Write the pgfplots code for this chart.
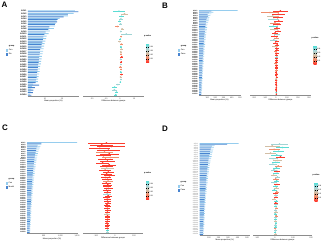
\documentclass[border=0pt]{standalone}
\usepackage{fontspec}
\setmainfont{Liberation Sans}
\usepackage{pgfplots}
\usepackage{pgfplotstable}
\pgfplotsset{compat=1.18}

\definecolor{lightb}{RGB}{150,205,238}
\definecolor{darkb}{RGB}{72,132,208}
\definecolor{pv1}{RGB}{251,60,45}
\definecolor{pv2}{RGB}{239,142,109}
\definecolor{pv3}{RGB}{210,190,165}
\definecolor{pv4}{RGB}{160,212,212}
\definecolor{pv5}{RGB}{90,220,212}

% panel A: y g1 g2 d e p
\pgfplotstableread{
y g1 g2 d e p
1 27.5 29.6 -0.8 4.0 0.046
2 26.8 23.5 3.2 2.2 0.028
3 23.4 21.0 1.0 1.8 0.040
4 18.6 17.4 0.6 1.2 0.035
5 16.8 17.1 -0.3 0.9 0.044
6 16.2 15.8 0.4 1.0 0.030
7 15.9 12.6 -2.0 1.5 0.018
8 15.2 12.0 1.5 1.0 0.022
9 12.8 10.4 0.5 0.8 0.038
10 12.2 9.6 4.5 4.0 0.032
11 11.0 9.0 0.8 0.9 0.015
12 10.6 8.8 0.3 0.7 0.042
13 10.2 8.5 -0.4 0.8 0.026
14 9.8 8.0 0.9 1.1 0.010
15 9.5 7.8 0.6 0.8 0.040
16 9.2 7.2 1.0 1.0 0.020
17 8.9 7.0 0.5 0.6 0.024
18 8.6 6.8 0.7 0.9 0.012
19 8.2 6.5 1.2 1.2 0.008
20 8.0 6.4 0.4 0.7 0.036
21 7.7 6.2 0.9 0.8 0.005
22 7.5 6.0 0.6 0.6 0.030
23 7.2 5.8 0.3 0.8 0.016
24 7.0 5.6 0.8 0.7 0.012
25 6.8 5.4 0.5 0.5 0.044
26 6.5 5.2 1.1 1.0 0.006
27 6.2 5.0 0.4 0.6 0.020
28 6.0 4.8 0.7 0.6 0.035
29 5.8 4.5 0.2 0.5 0.041
30 3.0 6.5 -1.5 1.2 0.038
31 2.4 4.0 -3.8 1.8 0.045
32 2.0 3.2 -4.0 1.5 0.032
33 1.6 2.8 -2.4 1.2 0.048
34 1.2 2.0 -3.0 1.0 0.040
}\dA

\pgfplotstableread{
y g1 g2 d e p
1 470 150 40 70 0.004
2 175 120 -55 80 0.012
3 150 105 20 60 0.002
4 140 110 -30 55 0.025
5 128 96 15 45 0.003
6 122 90 -20 50 0.034
7 118 88 25 40 0.006
8 110 85 -10 45 0.018
9 106 80 12 35 0.002
10 100 78 -25 40 0.041
11 98 74 8 30 0.005
12 95 70 -15 35 0.028
13 92 72 18 30 0.003
14 90 68 -8 28 0.009
15 86 66 10 25 0.036
16 84 64 -12 30 0.004
17 82 60 6 22 0.015
18 80 62 -20 32 0.031
19 78 58 9 20 0.002
20 76 57 -6 22 0.007
21 74 55 11 20 0.004
22 72 54 -9 24 0.022
23 70 53 5 18 0.003
24 68 52 8 18 0.006
25 66 50 -4 16 0.011
26 65 49 7 17 0.002
27 63 48 3 15 0.005
28 62 46 6 16 0.038
29 60 45 2 14 0.003
30 58 44 5 14 0.008
31 57 43 4 13 0.004
32 55 42 -3 14 0.019
33 54 41 6 12 0.002
34 52 40 4 12 0.006
35 51 39 3 11 0.003
36 50 38 5 12 0.013
37 48 37 2 10 0.004
38 47 36 4 10 0.002
39 46 35 3 10 0.007
40 45 34 5 9 0.003
41 44 33 2 9 0.027
42 42 32 4 9 0.005
43 41 31 3 8 0.002
44 40 30 2 8 0.009
45 39 30 4 8 0.003
46 38 29 3 7 0.006
47 37 28 2 7 0.002
48 36 27 3 7 0.004
49 35 26 2 6 0.044
50 34 25 3 6 0.003
}\dB

\pgfplotstableread{
y g1 g2 d e p
1 1500 430 -45 95 0.004
2 430 320 -70 60 0.002
3 400 300 -20 75 0.006
4 380 280 -80 55 0.003
5 360 270 -35 60 0.001
6 340 255 -55 45 0.012
7 325 245 -30 50 0.002
8 310 235 -60 40 0.004
9 300 225 -25 45 0.018
10 290 220 -50 38 0.001
11 280 210 -40 40 0.003
12 270 205 -65 35 0.002
13 262 200 -30 36 0.008
14 255 195 -45 32 0.001
15 248 190 -38 34 0.026
16 240 182 -52 30 0.003
17 232 178 -35 30 0.002
18 225 172 -44 28 0.005
19 218 168 -30 28 0.001
20 212 162 -48 26 0.004
21 206 158 -40 26 0.002
22 200 154 -36 25 0.014
23 195 150 -46 24 0.001
24 190 146 -38 24 0.003
25 185 142 -42 22 0.002
26 180 138 -34 22 0.006
27 175 135 -44 21 0.001
28 170 132 -39 20 0.003
29 166 128 -41 20 0.032
30 162 125 -36 19 0.002
31 158 122 -43 18 0.001
32 154 119 -38 18 0.004
33 150 116 -40 17 0.002
34 146 113 -37 17 0.009
35 142 110 -42 16 0.001
36 138 107 -39 16 0.003
37 135 104 -41 15 0.002
38 132 101 -38 15 0.005
39 129 98 -40 14 0.001
40 126 96 -42 14 0.021
41 123 94 -39 13 0.002
42 120 92 -41 13 0.003
43 117 90 -38 12 0.001
44 114 88 -40 12 0.004
45 111 86 -42 11 0.002
46 108 84 -39 11 0.001
47 105 82 -41 10 0.003
48 102 80 -40 10 0.002
49 99 78 -38 9 0.045
50 96 76 -40 9 0.030
}\dC

\pgfplotstableread{
y g1 g2 d e p
1 410 290 25 45 0.035
2 160 130 -15 40 0.020
3 150 122 40 35 0.045
4 145 118 -5 30 0.012
5 140 112 20 32 0.040
6 135 108 -25 28 0.028
7 130 104 10 30 0.046
8 126 100 30 25 0.008
9 122 97 -10 26 0.038
10 118 94 15 24 0.022
11 114 91 5 22 0.044
12 110 88 -12 22 0.030
13 107 86 18 20 0.016
14 104 83 8 20 0.042
15 101 81 -6 19 0.034
16 98 79 12 18 0.004
17 95 77 6 18 0.048
18 92 75 -8 17 0.026
19 90 73 14 16 0.036
20 88 71 4 16 0.010
21 86 69 9 15 0.043
22 84 67 -5 15 0.032
23 82 66 11 14 0.006
24 80 64 3 14 0.040
25 78 63 8 13 0.024
26 76 61 -4 13 0.046
27 74 60 10 12 0.014
28 72 58 2 12 0.003
29 70 57 7 12 0.038
30 68 56 5 11 0.002
31 67 54 -3 11 0.029
32 65 53 8 11 0.041
33 64 52 4 10 0.007
34 62 51 6 10 0.033
35 61 50 2 10 0.045
36 60 48 7 9 0.018
37 58 47 3 9 0.039
38 57 46 5 9 0.027
39 56 45 1 8 0.044
40 55 44 6 8 0.012
41 54 43 3 8 0.036
42 53 42 4 8 0.048
43 52 41 2 7 0.021
44 51 40 5 7 0.040
45 50 40 3 7 0.031
46 49 39 4 7 0.046
47 48 38 2 6 0.015
48 47 37 3 6 0.037
49 46 36 1 6 0.043
50 45 35 3 6 0.025
}\dD

\pgfplotsset{
  barax/.style={
    scale only axis, xbar, y dir=reverse, bar width=0.36,
    axis x line*=bottom, axis y line*=left,
    y axis line style={draw=none}, ytick style={draw=none},
    x axis line style={black!45, line width=0.3bp},
    xtick style={black!45, line width=0.3bp},
    tick align=outside, major tick length=1bp,
    xmin=0, enlarge y limits=false, clip=false,
    /pgf/number format/assume math mode=true,
    xticklabel style={font=\fontsize{2}{2.2}\selectfont, text=black!75, inner sep=0.6bp},
    yticklabel style={font=\fontsize{1.8}{2}\selectfont\bfseries, inner sep=0.4bp},
    yticklabel={ASV\pgfmathprintnumber{\tick}},
    xlabel style={font=\fontsize{2}{2.2}\selectfont, inner sep=0.4bp},
    legend style={anchor=north west, draw=none, fill=none,
      font=\fontsize{2}{2.2}\selectfont, inner sep=0pt, outer sep=0pt,
      row sep=0.5bp, nodes={inner sep=0.3bp}},
    legend cell align=left,
  },
  lb/.style={fill=lightb, draw=none, bar shift=-0.19,
    legend image code/.code={\fill[lightb] (0bp,-1.2bp) rectangle (2.4bp,1.2bp);}},
  db/.style={fill=darkb, draw=none, bar shift=0.19,
    legend image code/.code={\fill[darkb] (0bp,-1.2bp) rectangle (2.4bp,1.2bp);}},
  diffax/.style={
    scale only axis, y dir=reverse,
    axis x line*=bottom, axis y line=none, ytick=\empty,
    x axis line style={black!45, line width=0.3bp},
    xtick style={black!45, line width=0.3bp},
    tick align=outside, major tick length=1bp,
    enlarge y limits=false,
    /pgf/number format/assume math mode=true,
    xticklabel style={font=\fontsize{2}{2.2}\selectfont, text=black!75, inner sep=0.6bp},
    xlabel style={font=\fontsize{2}{2.2}\selectfont, inner sep=0.4bp},
    xlabel={Difference between groups},
    colormap={pv}{rgb255=(255,35,30) rgb255=(246,130,95) rgb255=(210,190,165) rgb255=(165,215,220) rgb255=(70,222,212)},
    point meta min=0, point meta max=0.05,
    colorbar,
  },
  cbar/.style={colorbar style={scale only axis, width=3bp, height=20bp,
    at={(parent axis.north east)}, anchor=north west, #1,
    y dir=normal, ytick={0.01,0.02,0.03,0.04}, scaled y ticks=false,
    major tick length=0.6bp, tick style={black, line width=0.2bp},
    axis line style={draw=none},
    /pgf/number format/assume math mode=true,
    yticklabel style={font=\fontsize{1.8}{2}\selectfont, inner sep=0.3bp,
      /pgf/number format/fixed, /pgf/number format/precision=2, /pgf/number format/fixed zerofill},
    title={p.value}, title style={font=\fontsize{2}{2.2}\selectfont\bfseries, inner sep=0.4bp}}},
  pcls/.style n args={3}{only marks, mark=*, mark size=0.6bp, color=#1,
    mark options={draw=none, fill=#1},
    restrict expr to domain={\thisrow{p}}{#2:#3},
    error bars/.cd, x dir=both, x explicit, error mark=none,
    error bar style={line width=0.35bp, color=#1}},
}
\newcommand{\diffplots}[1]{%
  \addplot[pcls={pv5}{0.04}{0.05}] table[x=d,y=y,x error=e]{#1};
  \addplot[pcls={pv4}{0.03}{0.0399}] table[x=d,y=y,x error=e]{#1};
  \addplot[pcls={pv3}{0.02}{0.0299}] table[x=d,y=y,x error=e]{#1};
  \addplot[pcls={pv2}{0.01}{0.0199}] table[x=d,y=y,x error=e]{#1};
  \addplot[pcls={pv1}{0}{0.0099}] table[x=d,y=y,x error=e]{#1};
}

\begin{document}
\begin{tikzpicture}
\useasboundingbox (0,0) rectangle (321bp,241bp);
% ---------- A ----------
\node[anchor=north west, font=\fontsize{8}{8}\selectfont\bfseries, inner sep=0pt] at (1.5bp,239.5bp) {A};
\begin{axis}[barax, at={(28bp,145bp)}, anchor=south west, width=51bp, height=86bp,
  xmax=30, xtick={10,20}, ymin=0.5, ymax=34.5, ytick={1,...,34},
  yticklabel style={font=\fontsize{2}{2.2}\selectfont\bfseries},
  xlabel={Mean proportion (\%)},
  legend style={at={(-0.43,0.593)}}]
\addlegendimage{empty legend}\addlegendentry{\textbf{group}}
\addplot[lb] table[x=g1,y=y]{\dA};\addlegendentry{Con}
\addplot[db] table[x=g2,y=y]{\dA};\addlegendentry{Dis}
\end{axis}
\begin{axis}[diffax, at={(83bp,145bp)}, anchor=south west, width=61bp, height=86bp,
  xmin=-26.4, xmax=17.1, xtick={-20,-10,0,10}, ymin=0.5, ymax=34.5, cbar={xshift=-6.5bp, yshift=-33bp}]
\diffplots{\dA}
\end{axis}
% ---------- B ----------
\node[anchor=north west, font=\fontsize{8}{8}\selectfont\bfseries, inner sep=0pt] at (162bp,238.5bp) {B};
\begin{axis}[barax, at={(199bp,146bp)}, anchor=south west, width=41bp, height=85bp,
  xmax=500, xtick={100,200,300,400,500}, ymin=0.5, ymax=50.5, ytick={1,...,50},
  yticklabel style={font=\fontsize{1.6}{1.7}\selectfont\bfseries},
  xlabel={Mean proportion (\%)},
  legend style={at={(-0.51,0.588)}}]
\addlegendimage{empty legend}\addlegendentry{\textbf{group}}
\addplot[lb] table[x=g1,y=y]{\dB};\addlegendentry{Con}
\addplot[db] table[x=g2,y=y]{\dB};\addlegendentry{Case}
\end{axis}
\begin{axis}[diffax, at={(250bp,146bp)}, anchor=south west, width=61bp, height=85bp,
  xmin=-236, xmax=318, xtick={-200,-100,0,100,200,300}, ymin=0.5, ymax=50.5, cbar={xshift=-6bp, yshift=-35bp}]
\diffplots{\dB}
\end{axis}
% ---------- C ----------
\node[anchor=north west, font=\fontsize{8}{8}\selectfont\bfseries, inner sep=0pt] at (2bp,116.5bp) {C};
\begin{axis}[barax, at={(27bp,8bp)}, anchor=south west, width=50bp, height=91bp,
  xmax=1500, xtick={500,1000,1500}, ymin=0.5, ymax=50.5, ytick={1,...,50},
  yticklabel style={font=\fontsize{1.6}{1.7}\selectfont\bfseries},
  xlabel={Mean proportion (\%)},
  legend style={at={(-0.42,0.604)}}]
\addlegendimage{empty legend}\addlegendentry{\textbf{group}}
\addplot[lb] table[x=g1,y=y]{\dC};\addlegendentry{Con}
\addplot[db] table[x=g2,y=y]{\dC};\addlegendentry{Model}
\end{axis}
\begin{axis}[diffax, at={(83bp,8bp)}, anchor=south west, width=60bp, height=91bp,
  xmin=-168, xmax=147, xtick={-100,0,100}, ymin=0.5, ymax=50.5, cbar={xshift=-5.5bp, yshift=-38bp}]
\diffplots{\dC}
\end{axis}
% ---------- D ----------
\node[anchor=north west, font=\fontsize{8}{8}\selectfont\bfseries, inner sep=0pt] at (162bp,115bp) {D};
\begin{axis}[barax, at={(199.5bp,6bp)}, anchor=south west, width=50.5bp, height=92bp,
  xmax=530, xtick={100,200,300,400,500}, ymin=0.5, ymax=50.5, ytick={1,...,50},
  yticklabel style={font=\fontsize{1.6}{1.7}\selectfont, text=black!55},
  xlabel={Mean proportion (\%)},
  legend style={at={(-0.426,0.587)}}]
\addlegendimage{empty legend}\addlegendentry{\textbf{group}}
\addplot[lb] table[x=g1,y=y]{\dD};\addlegendentry{Con}
\addplot[db] table[x=g2,y=y]{\dD};\addlegendentry{Case}
\end{axis}
\begin{axis}[diffax, at={(253bp,6bp)}, anchor=south west, width=59bp, height=92bp,
  xmin=-122, xmax=205, xtick={-100,0,100,200}, ymin=0.5, ymax=50.5, cbar={xshift=-6bp, yshift=-39bp}]
\diffplots{\dD}
\end{axis}
\end{tikzpicture}
\end{document}
